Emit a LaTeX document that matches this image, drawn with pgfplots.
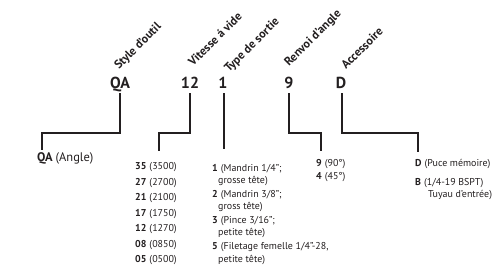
\documentclass[border=0pt]{standalone}
\usepackage{pgfplots}
\pgfplotsset{compat=1.18}
\usepackage{fontspec}
\setmainfont{PT Sans}
\definecolor{ink}{RGB}{35,31,32}
\begin{document}
\begin{tikzpicture}
\begin{axis}[width=500bp,height=268bp,scale only axis,
  xmin=0,xmax=500,ymin=0,ymax=268,y dir=reverse,hide axis,clip=false]
% connectors
\addplot[ink,line width=1.2bp] coordinates {(120,93)(120,133)(42,133)(42,150)};
\addplot[ink,line width=1.2bp] coordinates {(190,93)(190,133)(159,133)(159,151)};
\addplot[ink,line width=1.2bp] coordinates {(224,93)(224,149)};
\addplot[ink,line width=1.2bp] coordinates {(289,93)(289,133)(321,133)(321,151)};
\addplot[ink,line width=1.2bp] coordinates {(342,93)(342,133)(418,133)(418,152)};
% code letters
\tikzset{code/.style={anchor=base,font=\fontsize{16}{18}\selectfont\bfseries,text=ink,inner sep=0pt},
  cat/.style={anchor=base west,rotate=45,font=\fontsize{12}{14}\selectfont\bfseries,text=ink,inner sep=0pt},
  item/.style={anchor=base west,font=\fontsize{10}{12}\selectfont,text=ink,inner sep=0pt}}
\node[code] at (axis cs:120,88) {QA};
\node[code] at (axis cs:190,88) {12};
\node[code] at (axis cs:223,88) {1};
\node[code] at (axis cs:289,88) {9};
\node[code] at (axis cs:341,88) {D};
% category labels
\node[cat] at (axis cs:119,70) {Style d’outil};
\node[cat] at (axis cs:193,67) {Vitesse á vide};
\node[cat] at (axis cs:229,73) {Type de sortie};
\node[cat] at (axis cs:289,67) {Renvoi d’angle};
\node[cat] at (axis cs:346,70) {Accessoire};
% QA
\node[anchor=base west,font=\fontsize{12.5}{14}\selectfont,text=ink,inner sep=0pt] at (axis cs:37,161) {\textbf{QA}\hspace{3pt}(Angle)};
% speeds
\node[item] at (axis cs:135,169.5) {\textbf{35}\hspace{3pt}(3500)};
\node[item] at (axis cs:135,185) {\textbf{27}\hspace{3pt}(2700)};
\node[item] at (axis cs:135,200.5) {\textbf{21}\hspace{3pt}(2100)};
\node[item] at (axis cs:135,216) {\textbf{17}\hspace{3pt}(1750)};
\node[item] at (axis cs:135,231.5) {\textbf{12}\hspace{3pt}(1270)};
\node[item] at (axis cs:135,247) {\textbf{08}\hspace{3pt}(0850)};
\node[item] at (axis cs:135,262.5) {\textbf{05}\hspace{3pt}(0500)};
% output type
\node[item] at (axis cs:212,171) {\textbf{1}\hspace{3pt}(Mandrin 1/4";};
\node[item] at (axis cs:218,183.5) {grosse tête)};
\node[item] at (axis cs:212,197) {\textbf{2}\hspace{3pt}(Mandrin 3/8";};
\node[item] at (axis cs:218,209.5) {gross tête)};
\node[item] at (axis cs:212,223) {\textbf{3}\hspace{3pt}(Pince 3/16";};
\node[item] at (axis cs:218,235.5) {petite tête)};
\node[item] at (axis cs:212,249.5) {\textbf{5}\hspace{3pt}(Filetage femelle 1/4"-28,};
\node[item] at (axis cs:218,262) {petite tête)};
% angle
\node[item] at (axis cs:316,166.5) {\textbf{9}\hspace{3pt}(90°)};
\node[item] at (axis cs:316,179) {\textbf{4}\hspace{3pt}(45°)};
% accessory
\node[item] at (axis cs:415,166.5) {\textbf{D}\hspace{3pt}(Puce mémoire)};
\node[item] at (axis cs:415,185.5) {\textbf{B}\hspace{3pt}(1/4-19 BSPT)};
\node[item] at (axis cs:428,197) {Tuyau d’entrée)};
\end{axis}
\pgfresetboundingbox
\path (current axis.south west) rectangle (current axis.north east);
\end{tikzpicture}
\end{document}
